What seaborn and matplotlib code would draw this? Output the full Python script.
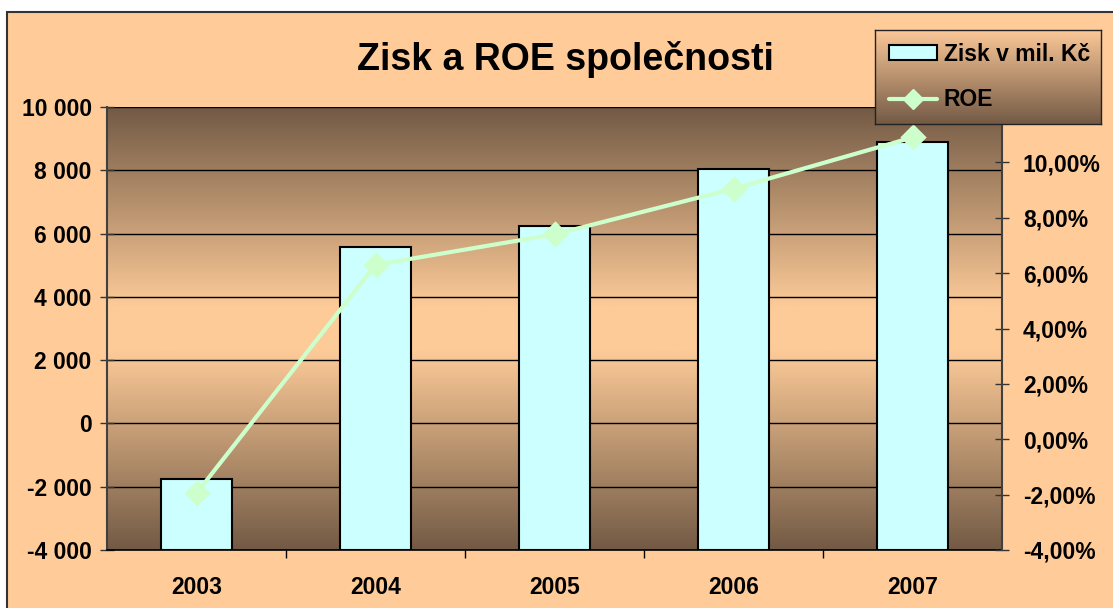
import numpy as np
import seaborn as sns
import matplotlib.pyplot as plt
from matplotlib.colors import LinearSegmentedColormap
from matplotlib.patches import Rectangle, Patch
from matplotlib.lines import Line2D
from matplotlib.ticker import FuncFormatter, MultipleLocator, FixedLocator

sns.set_theme(style='white')
plt.rcParams['font.family'] = ['Liberation Sans', 'DejaVu Sans']
plt.rcParams['font.weight'] = 'bold'
plt.rcParams['text.color'] = 'black'
plt.rcParams['xtick.color'] = 'black'
plt.rcParams['ytick.color'] = 'black'
plt.rcParams['axes.labelcolor'] = 'black'

# Data
years = ['2003', '2004', '2005', '2006', '2007']
zisk = [-1750, 5580, 6250, 8050, 8900]          # zisk v mil. Kč
roe = [-1.95, 6.30, 7.40, 9.05, 10.90]          # ROE v %
title = 'Zisk a ROE společnosti'
label_zisk = 'Zisk v mil. Kč'
label_roe = 'ROE'

y_min, y_max = -4000, 10000
r_min, r_max = -4, 12

bar_col = '#CCFFFF'
line_col = '#CCFFCC'
dark = '#735A45'
light = '#FDCB98'
fs = 16.5

fig = plt.figure(figsize=(11.13, 6.08), dpi=100, facecolor='white')
fig.patches.append(Rectangle((7 / 1113, -0.05), 1.2, 1.05 - 12 / 608,
                             transform=fig.transFigure, facecolor='#FFCC99',
                             edgecolor='#333333', linewidth=1.5, zorder=-10))

ax = fig.add_axes([107 / 1113, 58 / 608, 895 / 1113, 443 / 608])
ax.patch.set_alpha(0)

# background gradient of plot area
cmap = LinearSegmentedColormap.from_list(
    'bg', [(0, dark), (0.45, light), (0.55, light), (1, dark)])
ax.imshow(np.linspace(0, 1, 256).reshape(-1, 1), extent=[0, 1, 0, 1],
          transform=ax.transAxes, aspect='auto', cmap=cmap, zorder=-5)

# bars start from the bottom of the axis (Excel style)
heights = [v - y_min for v in zisk]
sns.barplot(x=years, y=heights, bottom=y_min, ax=ax, color=bar_col,
            saturation=1, width=0.4, errorbar=None, edgecolor='black',
            linewidth=1.5, zorder=3)

ax.set_xlim(-0.5, len(years) - 0.5)
ax.set_ylim(y_min, y_max)
ax.yaxis.set_major_locator(MultipleLocator(2000))
ax.yaxis.set_major_formatter(FuncFormatter(lambda v, p: f'{v:,.0f}'.replace(',', ' ')))
ax.grid(axis='y', color='black', linewidth=1)
ax.set_axisbelow(True)
ax.tick_params(axis='y', direction='inout', length=10, width=1,
               color='#333333', labelsize=fs, pad=6, left=True)
ax.tick_params(axis='x', length=0, labelsize=fs, pad=19)
ax.xaxis.set_minor_locator(FixedLocator([0.5, 1.5, 2.5, 3.5]))
ax.tick_params(axis='x', which='minor', direction='out', length=6,
               color='black', bottom=True)
for t in ax.get_xticklabels() + ax.get_yticklabels():
    t.set_fontweight('bold')
ax.set_xlabel('')
ax.set_ylabel('')
ax.spines['top'].set_visible(False)
ax.spines['left'].set_color('#404040')
ax.spines['left'].set_linewidth(1.5)
ax.spines['bottom'].set_color('black')
ax.spines['bottom'].set_linewidth(1.2)
ax.spines['right'].set_visible(False)

# ROE on the secondary axis
ax2 = ax.twinx()
sns.pointplot(x=years, y=roe, ax=ax2, color=line_col, marker='D',
              markersize=11, linewidth=3, errorbar=None, zorder=5)
ax2.set_xlim(-0.5, len(years) - 0.5)
ax2.set_ylim(r_min, r_max)
ax2.yaxis.set_major_locator(MultipleLocator(2))
ax2.yaxis.set_major_formatter(FuncFormatter(lambda v, p: f'{v:.2f}%'.replace('.', ',')))
ax2.tick_params(axis='y', direction='inout', length=10, width=1,
                color='#333333', labelsize=fs, pad=10, right=True)
for t in ax2.get_yticklabels():
    t.set_fontweight('bold')
ax2.set_ylabel('')
ax2.set_xlabel('')
for s in ['top', 'left', 'bottom']:
    ax2.spines[s].set_visible(False)
ax2.spines['right'].set_color('#404040')
ax2.spines['right'].set_linewidth(1.5)

fig.text(565 / 1113, 1 - 60 / 608, title, ha='center', va='center',
         fontsize=27, fontweight='bold', color='black')

# legend box with gradient
lax = fig.add_axes([875 / 1113, 1 - 124 / 608, 226 / 1113, 94 / 608])
lcmap = LinearSegmentedColormap.from_list('lg', [(0, dark), (1, '#FCC898')])
lax.imshow(np.linspace(0, 1, 256).reshape(-1, 1), extent=[0, 1, 0, 1],
           aspect='auto', cmap=lcmap, origin='lower')
lax.set_xticks([])
lax.set_yticks([])
for s in lax.spines.values():
    s.set_color('#222222')
    s.set_linewidth(1)
handles = [Patch(facecolor=bar_col, edgecolor='black', linewidth=1.5),
           Line2D([], [], color=line_col, linewidth=3, marker='D', markersize=10)]
lax.legend(handles, [label_zisk, label_roe], loc='center left', frameon=False,
           prop={'size': fs, 'weight': 'bold'}, labelcolor='black',
           handlelength=2.1, handleheight=0.6, handletextpad=0.3,
           labelspacing=1.0, borderaxespad=0.2)

plt.savefig('out.png', dpi=100, facecolor='white')
